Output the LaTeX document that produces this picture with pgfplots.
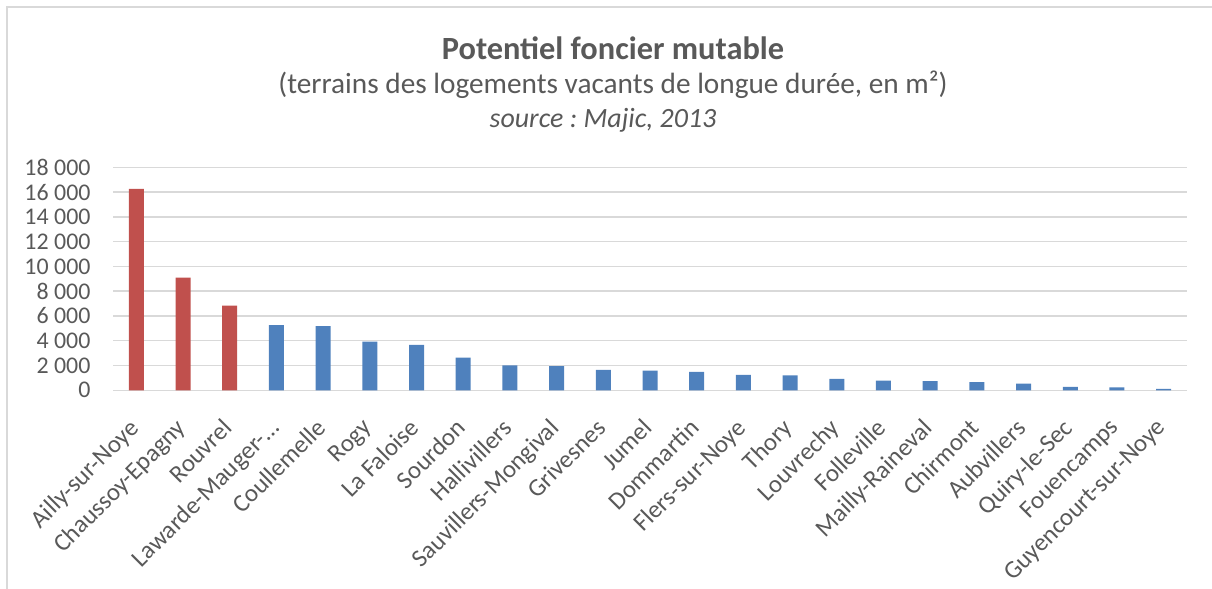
\documentclass[border=0pt]{standalone}
\usepackage{fontspec}
\setmainfont{Carlito}
\usepackage{pgfplots}
\pgfplotsset{compat=1.18}
\definecolor{txt}{HTML}{595959}
\definecolor{gridc}{HTML}{D9D9D9}
\definecolor{barred}{HTML}{C0504D}
\definecolor{barblue}{HTML}{4F81BD}
\frenchspacing
\begin{document}
\begin{tikzpicture}
\path[use as bounding box] (0,0) rectangle (1212bp,589bp);
\draw[gridc, line width=1.2bp] (7bp,0) -- (7bp,582bp) -- (1212bp,582bp);
\node[font=\fontsize{32.5}{37}\selectfont\bfseries, text=txt] at (613bp,541bp) {Potentiel foncier mutable};
\node[font=\fontsize{29.4}{34}\selectfont, text=txt] at (613bp,504bp) {(terrains des logements vacants de longue durée, en m²)};
\node[font=\fontsize{28}{32}\selectfont\itshape, text=txt] at (603bp,469bp) {source : Majic, 2013};
\begin{axis}[
  at={(113bp,198.7bp)}, anchor=south west,
  scale only axis, width=1074bp, height=223bp,
  xmin=-0.5, xmax=22.5, ymin=0, ymax=18000,
  ybar, bar width=15bp, bar shift=0pt,
  ytick={0,2000,...,18000},
  xtick={0,...,22},
  xticklabels={Ailly-sur-Noye,Chaussoy-Epagny,Rouvrel,Lawarde-Mauger-…,Coullemelle,Rogy,La Faloise,Sourdon,Hallivillers,Sauvillers-Mongival,Grivesnes,Jumel,Dommartin,Flers-sur-Noye,Thory,Louvrechy,Folleville,Mailly-Raineval,Chirmont,Aubvillers,Quiry-le-Sec,Fouencamps,Guyencourt-sur-Noye},
  ymajorgrids, grid style={gridc, line width=1.5bp},
  axis line style={draw=none}, major tick length=0pt,
  xticklabel style={rotate=45, anchor=north east, font=\fontsize{25}{29}\selectfont, text=txt, inner sep=1bp, xshift=-24bp, yshift=-12bp},
  yticklabel style={font=\fontsize{24}{28}\selectfont, text=txt, xshift=-19bp},
  scaled y ticks=false,
  /pgf/number format/.cd, fixed, 1000 sep={\ }, assume math mode=true,
]
\addplot[fill=barred, draw=none] coordinates {(0,16250) (1,9100) (2,6830)};
\addplot[fill=barblue, draw=none] coordinates {(3,5270) (4,5190) (5,3930) (6,3660) (7,2640) (8,2020) (9,1960) (10,1640) (11,1590) (12,1480) (13,1240) (14,1210) (15,915) (16,780) (17,750) (18,650) (19,540) (20,270) (21,240) (22,110)};
\end{axis}
\end{tikzpicture}
\end{document}
